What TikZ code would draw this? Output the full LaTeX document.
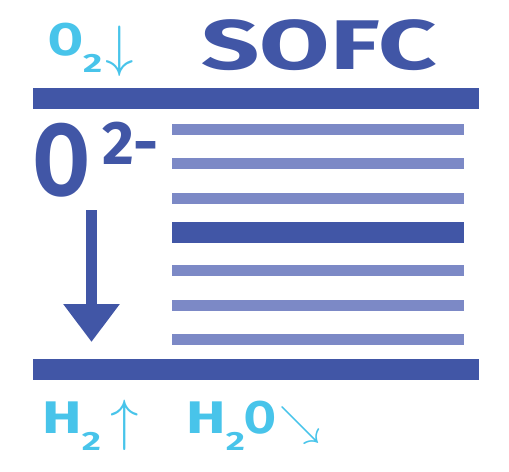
\documentclass[tikz,border=0pt]{standalone}
\usepackage{fontspec}
\setmainfont{Fira Sans}
\usepackage{amsmath}
\definecolor{cellblue}{RGB}{65, 86, 166}
\definecolor{layerblue}{RGB}{124, 137, 198}
\definecolor{gascyan}{RGB}{72, 196, 234}
\usetikzlibrary{arrows.meta, positioning}
\newcommand{\wideglyph}[1]{\scalebox{1.3}[1]{#1}}
\newcommand{\gassub}[1]{\raisebox{-0.34cm}{\scalebox{1.4}[1]{\fontsize{15}{15}\selectfont #1}}}

\begin{document}
\begin{tikzpicture}[x=0.02cm, y=-0.02cm,
  electrode/.style={fill=cellblue},
  layer/.style={fill=layerblue},
  lbl/.style={inner sep=0pt, anchor=base west},
  gas/.style={lbl, text=gascyan, font=\bfseries\fontsize{26}{26}\selectfont},
  ionflow/.style={cellblue, line width=0.22cm, -{Triangle[width=1.08cm, length=0.76cm]}}
]
  \useasboundingbox (0,0) rectangle (509,471);

  % title and cathode gas
  \node[lbl, text=cellblue, xscale=1.45, font=\bfseries\fontsize{40}{40}\selectfont] (title) at (201,69) {SOFC};
  \node[gas] (oxygen) at (48,55) {\scalebox{1.1}[1]{O}\gassub{2}\hspace{0.06cm}\raisebox{-0.2cm}{\scalebox{1.3}{$\downarrow$}}};

  % electrodes
  \fill[electrode] (33,88) rectangle (479,109);
  \fill[electrode] (33,359) rectangle (479,380);

  % electrolyte stack
  \foreach \y in {124,158,193,265,300,334}
    \fill[layer] (172,\y) rectangle (464,\y+11);
  \fill[electrode] (172,222) rectangle (464,243);

  % oxide ion
  \node[lbl, text=cellblue, xscale=0.8, font=\bfseries\fontsize{58}{58}\selectfont] (ion) at (33,195) {O};
  \node[lbl, text=cellblue, font=\bfseries\fontsize{35}{35}\selectfont] (charge) at (102,164) {2-};
  \coordinate (flowtop) at (91.5,210);
  \coordinate (flowtip) at (91.5,342);
  \draw[ionflow] (flowtop) -- (flowtip);

  % anode gases
  \node[gas] (hydrogen) at (42,433) {\wideglyph{H}\gassub{2}\hspace{0.2cm}\raisebox{-0.12cm}{\scalebox{1.3}{$\uparrow$}}};
  \node[gas] (water) at (186,433) {\wideglyph{H}\gassub{2}O\hspace{0.06cm}\raisebox{-0.05cm}{\scalebox{0.95}{$\searrow$}}};
\end{tikzpicture}
\end{document}
